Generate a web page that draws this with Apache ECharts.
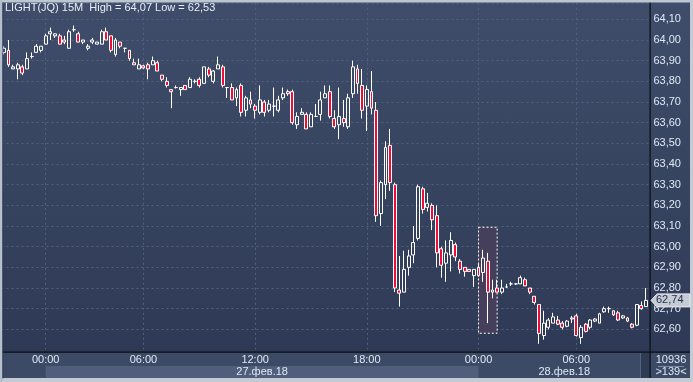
<!DOCTYPE html>
<html><head><meta charset="utf-8">
<script src="https://cdn.jsdelivr.net/npm/echarts@6/dist/echarts.min.js"></script>
<style>
html,body{margin:0;padding:0;}
#c{width:693px;height:382px;background:linear-gradient(to bottom,#3f4d6a 0px,#36435f 200px,#2e3955 352px,#3c4a66 352px,#3c4a66 382px);}
</style>
</head><body><div id="c"></div>
<script>
// ---- data (15-minute candles, LIGHT(JQ)) ----
const opens  = [63.94,63.95,63.86,63.86,63.87,63.86,63.92,63.94,63.95,63.98,64.03,64.02,64.02,64.00,63.96,64.05,64.03,63.99,63.96,63.99,63.98,63.98,64.04,64.02,63.93,63.99,63.96,63.95,63.89,63.86,63.875,63.88,63.88,63.89,63.83,63.80,63.76,63.77,63.76,63.78,63.77,63.80,63.81,63.79,63.86,63.80,63.86,63.87,63.77,63.77,63.72,63.78,63.66,63.71,63.68,63.65,63.70,63.66,63.68,63.66,63.72,63.75,63.75,63.59,63.64,63.64,63.58,63.63,63.64,63.72,63.75,63.62,63.59,63.62,63.58,63.74,63.86,63.78,63.68,63.75,63.66,63.16,63.30,63.49,63.30,62.79,62.78,62.90,62.96,63.04,63.28,63.19,63.20,63.15,62.99,62.92,62.96,63.01,62.93,62.90,62.89,62.86,62.90,62.875,62.93,62.78,62.80,62.78,62.805,62.82,62.82,62.82,62.84,62.80,62.76,62.72,62.57,62.61,62.63,62.645,62.63,62.615,62.65,62.665,62.56,62.625,62.61,62.64,62.63,62.685,62.70,62.69,62.68,62.655,62.655,62.625,62.62,62.715,62.71];
const closes = [63.96,63.88,63.87,63.88,63.84,63.91,63.92,63.97,63.97,64.02,64.04,64.03,63.98,63.99,64.04,64.05,63.99,64.00,63.97,64.00,63.99,64.04,64.00,63.95,64.00,63.97,63.96,63.91,63.88,63.88,63.865,63.86,63.90,63.85,63.81,63.78,63.75,63.77,63.77,63.76,63.81,63.80,63.78,63.87,63.83,63.85,63.88,63.78,63.77,63.71,63.76,63.65,63.72,63.69,63.66,63.71,63.65,63.69,63.68,63.71,63.74,63.74,63.60,63.63,63.65,63.57,63.64,63.63,63.71,63.74,63.63,63.58,63.63,63.60,63.72,63.87,63.79,63.66,63.76,63.67,63.15,63.31,63.48,63.31,62.80,62.775,62.89,62.955,63.02,63.29,63.18,63.21,63.13,62.97,62.91,62.97,63.03,62.95,62.89,62.88,62.88,62.89,62.86,62.945,62.78,62.79,62.78,62.80,62.805,62.82,62.82,62.85,62.81,62.78,62.73,62.58,62.63,62.645,62.66,62.625,62.61,62.64,62.655,62.57,62.61,62.59,62.645,62.65,62.675,62.70,62.70,62.67,62.645,62.665,62.64,62.61,62.72,62.70,62.74];
const lows   = [63.93,63.87,63.86,63.81,63.83,63.86,63.91,63.94,63.94,63.98,64.00,64.01,63.98,63.98,63.96,64.04,63.99,63.98,63.95,63.98,63.98,63.98,64.00,63.94,63.92,63.96,63.94,63.90,63.88,63.86,63.86,63.81,63.88,63.85,63.80,63.77,63.67,63.765,63.73,63.76,63.77,63.79,63.77,63.79,63.82,63.79,63.86,63.77,63.72,63.71,63.68,63.63,63.63,63.67,63.62,63.64,63.63,63.65,63.63,63.65,63.71,63.73,63.59,63.57,63.64,63.57,63.58,63.63,63.61,63.72,63.62,63.57,63.52,63.58,63.57,63.72,63.74,63.62,63.56,63.64,63.12,63.10,63.23,63.27,62.78,62.71,62.78,62.86,62.92,63.03,63.16,63.17,63.08,62.90,62.85,62.83,62.88,62.93,62.87,62.855,62.88,62.805,62.855,62.83,62.63,62.75,62.78,62.77,62.80,62.81,62.815,62.82,62.81,62.77,62.72,62.53,62.55,62.60,62.63,62.62,62.60,62.61,62.63,62.565,62.53,62.585,62.60,62.635,62.63,62.68,62.68,62.665,62.64,62.65,62.635,62.605,62.615,62.695,62.71];
const highs  = [63.97,64.00,63.88,63.89,63.88,63.94,63.94,63.98,63.97,64.03,64.06,64.03,64.03,64.02,64.05,64.07,64.04,64.00,63.98,64.01,63.99,64.05,64.06,64.02,64.01,63.99,63.96,63.95,63.91,63.91,63.88,63.89,63.92,63.90,63.83,63.82,63.76,63.78,63.77,63.78,63.82,63.81,63.82,63.87,63.87,63.855,63.92,63.88,63.77,63.79,63.77,63.79,63.73,63.75,63.69,63.78,63.71,63.71,63.77,63.73,63.77,63.76,63.76,63.65,63.67,63.65,63.65,63.69,63.75,63.78,63.78,63.66,63.77,63.71,63.74,63.90,63.88,63.86,63.78,63.85,63.70,63.32,63.51,63.57,63.31,62.955,62.98,62.985,63.10,63.30,63.29,63.26,63.21,63.20,63.00,63.03,63.07,63.02,62.94,62.90,62.89,62.89,62.92,62.985,62.97,62.84,62.84,62.84,62.82,62.83,62.82,62.86,62.85,62.80,62.76,62.72,62.69,62.655,62.68,62.665,62.64,62.645,62.665,62.675,62.62,62.63,62.65,62.655,62.68,62.71,62.71,62.69,62.69,62.67,62.66,62.63,62.72,62.735,62.80];

const timeTickIndex  = [9, 30, 54, 78, 102, 123];
const timeTickLabels = ['00:00', '06:00', '12:00', '18:00', '00:00', '06:00'];
const dayLabels      = ['27.фев.18', '28.фев.18'];
const dayStartIndex  = [9, 102];
const priceMin = 62.5, priceMax = 64.18, priceStep = 0.1;
const highlightFrom = 102, highlightTo = 106;
const highlightHigh = 63.094, highlightLow = 62.581;
const titleText = 'LIGHT(JQ) 15M  High = 64,07 Low = 62,53';
const totalBars = '10936';
const visibleBars = '>139<';

// ---- chart ----
const FONT = "'Liberation Sans Narrow','Liberation Sans',Arial,sans-serif";
const TXT = '#dfe8f6';
const categories = opens.map((_, i) => String(i));
const ohlc = opens.map((o, i) => [o, closes[i], lows[i], highs[i]]);
const tickSet = new Set(timeTickIndex);
const fmt = v => v.toFixed(2).replace('.', ',');

const chart = echarts.init(document.getElementById('c'), null, {renderer: 'canvas'});
const option = {
  backgroundColor: 'transparent',
  animation: false,
  grid: {left: 1.5, right: 44.6, top: 2.8, bottom: 32},
  xAxis: {
    type: 'category', data: categories, boundaryGap: true,
    axisLine: {show: false},
    axisTick: {show: false, alignWithLabel: true},
    axisLabel: {
      interval: (i) => tickSet.has(i),
      formatter: (v, i) => { const k = timeTickIndex.indexOf(Number(v)); return k >= 0 ? timeTickLabels[k] : ''; },
      color: TXT, fontSize: 11, fontFamily: FONT, margin: 4
    },
    splitLine: {show: true, interval: (i) => tickSet.has(i), alignWithLabel: true,
      lineStyle: {color: '#536180', width: 1, type: [2, 3]}}
  },
  yAxis: {
    type: 'value', position: 'right', min: priceMin, max: priceMax, interval: priceStep,
    axisLine: {show: false}, axisTick: {show: false},
    axisLabel: {
      formatter: v => (v < 62.55 || v > 64.15) ? '' : fmt(v),
      color: TXT, fontSize: 11, fontFamily: FONT, margin: 5, align: 'left'
    },
    splitLine: {show: true, lineStyle: {color: '#536180', width: 1, type: [2, 3]}}
  },
  series: [{
    type: 'candlestick', data: ohlc, barWidth: 3.4,
    itemStyle: {color: 'rgba(0,0,0,0)', color0: '#f00c36', borderColor: '#ffffff', borderColor0: '#ffffff', borderWidth: 1},
    markArea: {
      silent: true,
      itemStyle: {color: '#463f5b', borderColor: '#ffffff', borderWidth: 1, borderType: [2, 2]},
      data: [[{xAxis: highlightFrom, yAxis: highlightHigh}, {xAxis: highlightTo, yAxis: highlightLow}]]
    }
  }]
};
chart.setOption(option);

// ---- frame / overlays ----
const px = i => chart.convertToPixel({xAxisIndex: 0}, i);
const py = v => chart.convertToPixel({yAxisIndex: 0}, v);
const lastClose = closes[closes.length - 1];
const tagY = py(lastClose);
const d0 = px(dayStartIndex[0]), d1 = px(dayStartIndex[1]);
const Z = 50;
const g = [];
// cover bottom grid line region
g.push({type: 'rect', shape: {x: 0, y: 349.5, width: 650, height: 2.5}, style: {fill: '#2e3955'}, z: Z});
// date band
g.push({type: 'rect', shape: {x: d0, y: 366, width: d1 - d0, height: 12}, style: {fill: '#505e7b'}, z: Z});
g.push({type: 'rect', shape: {x: 640, y: 353, width: 9.5, height: 25}, style: {fill: '#2f3a55'}, z: Z});
g.push({type: 'rect', shape: {x: 640, y: 353, width: 1, height: 25}, style: {fill: '#56637f'}, z: Z});
// black separators
g.push({type: 'rect', shape: {x: 0, y: 351.5, width: 690, height: 1.2}, style: {fill: '#0a0d14'}, z: Z + 2});
g.push({type: 'rect', shape: {x: 649.5, y: 2, width: 1.2, height: 376}, style: {fill: '#0a0d14'}, z: Z + 2});
// outer border
g.push({type: 'rect', shape: {x: 0, y: 0, width: 693, height: 2.5}, style: {fill: '#bdc5d1'}, z: Z + 3});
g.push({type: 'rect', shape: {x: 0, y: 378, width: 693, height: 4}, style: {fill: '#c3cad4'}, z: Z + 3});
g.push({type: 'rect', shape: {x: 0, y: 0, width: 2.5, height: 382}, style: {fill: '#b6bfcc'}, z: Z + 3});
g.push({type: 'rect', shape: {x: 2.5, y: 2.5, width: 0.8, height: 376}, style: {fill: '#2a3550'}, z: Z + 3});
g.push({type: 'rect', shape: {x: 690, y: 0, width: 3, height: 382}, style: {fill: '#c3cad4'}, z: Z + 3});
// title
g.push({type: 'text', x: 5, y: 8, style: {text: titleText, fill: '#e8eef7', font: '11px ' + FONT, textVerticalAlign: 'middle', verticalAlign: 'middle'}, z: Z + 4});
// day labels
g.push({type: 'text', x: (d0 + d1) / 2, y: 372, style: {text: dayLabels[0], fill: TXT, font: '11px ' + FONT, align: 'center', verticalAlign: 'middle', textAlign: 'center', textVerticalAlign: 'middle'}, z: Z + 4});
g.push({type: 'text', x: (d1 + 650) / 2, y: 372, style: {text: dayLabels[1], fill: TXT, font: '11px ' + FONT, align: 'center', verticalAlign: 'middle', textAlign: 'center', textVerticalAlign: 'middle'}, z: Z + 4});
// bar counters
g.push({type: 'text', x: 671, y: 360, style: {text: totalBars, fill: TXT, font: '11px ' + FONT, align: 'center', verticalAlign: 'middle', textAlign: 'center', textVerticalAlign: 'middle'}, z: Z + 4});
g.push({type: 'rect', shape: {x: 658, y: 366, width: 26, height: 1}, style: {fill: '#7f8ba0'}, z: Z + 4});
g.push({type: 'text', x: 671, y: 372, style: {text: visibleBars, fill: TXT, font: '11px ' + FONT, align: 'center', verticalAlign: 'middle', textAlign: 'center', textVerticalAlign: 'middle'}, z: Z + 4});
// last price tag
g.push({type: 'polygon', shape: {points: [[651, tagY], [657, tagY - 6.5], [690, tagY - 6.5], [690, tagY + 6.5], [657, tagY + 6.5]]}, style: {fill: '#c6ccd5', stroke: '#e6e9ee', lineWidth: 1}, z: Z + 4});
g.push({type: 'text', x: 656, y: tagY, style: {text: fmt(lastClose), fill: '#24314d', font: '11px ' + FONT, verticalAlign: 'middle', textVerticalAlign: 'middle'}, z: Z + 5});
chart.setOption({graphic: {elements: g}});
</script>
</body></html>
